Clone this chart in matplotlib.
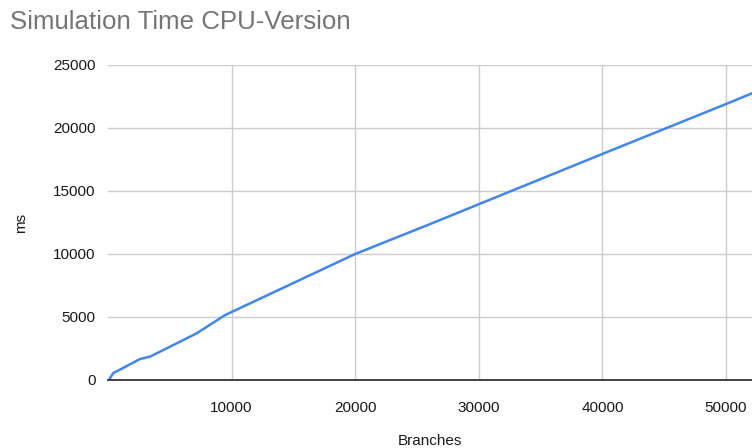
import matplotlib

matplotlib.use("Agg")
import matplotlib.pyplot as plt

# Simulation time of the CPU version vs. number of branches
branches = [100, 430, 810, 2590, 3400, 7180, 9470, 20000, 26000, 30000, 40000, 50000, 52100]
time_ms = [40, 555, 740, 1667, 1850, 3706, 5150, 10000, 12350, 13950, 17940, 21900, 22750]

x_ticks = [10000, 20000, 30000, 40000, 50000]
y_ticks = [0, 5000, 10000, 15000, 20000, 25000]

plt.rcParams["font.family"] = ["Liberation Sans", "DejaVu Sans"]

fig = plt.figure(figsize=(7.52, 4.48), dpi=100)
ax = fig.add_axes([0.1436, 0.1518, 0.8564, 0.7032])

ax.plot(branches, time_ms, color="#4285F4", lw=1.8, solid_joinstyle="round")

ax.set_xlim(0, 52100)
ax.set_ylim(0, 25000)
ax.set_xticks(x_ticks)
ax.set_yticks(y_ticks)
ax.grid(True, color="#cccccc", lw=1.0)
ax.set_axisbelow(True)

for side in ["top", "right", "left"]:
    ax.spines[side].set_visible(False)
ax.spines["bottom"].set_color("#333333")
ax.spines["bottom"].set_linewidth(1.3)
ax.spines["bottom"].set_zorder(3)

ax.tick_params(axis="both", length=0, labelsize=11, labelcolor="#1a1a1a")
ax.tick_params(axis="y", pad=9)
ax.tick_params(axis="x", pad=15)

ax.set_xlabel("Branches", fontsize=11, color="#1a1a1a", labelpad=14)
ax.set_ylabel("ms", fontsize=11, color="#1a1a1a", labelpad=18)

fig.text(0.013, 0.952, "Simulation Time CPU-Version", fontsize=18.6,
         color="#757575", ha="left", va="center")

fig.savefig("out.png", dpi=100)
